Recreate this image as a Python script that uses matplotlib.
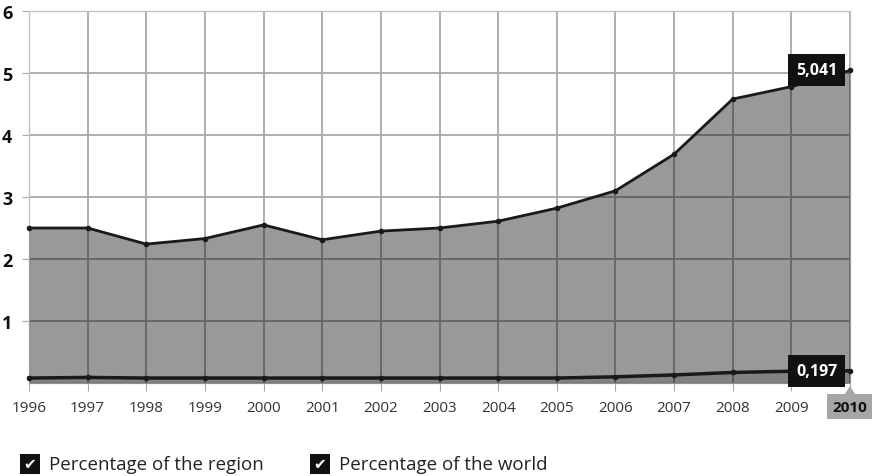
import matplotlib.pyplot as plt
from matplotlib.patches import Rectangle, Polygon

years = [1996, 1997, 1998, 1999, 2000, 2001, 2002, 2003, 2004, 2005, 2006, 2007, 2008, 2009, 2010]
region = [2.5, 2.5, 2.24, 2.33, 2.55, 2.31, 2.45, 2.5, 2.61, 2.82, 3.1, 3.69, 4.58, 4.78, 5.041]
world = [0.08, 0.09, 0.08, 0.08, 0.08, 0.08, 0.08, 0.08, 0.08, 0.08, 0.1, 0.13, 0.17, 0.19, 0.197]
yticks = [1, 2, 3, 4, 5, 6]
legend_labels = ["Percentage of the region", "Percentage of the world"]

plt.rcParams['font.family'] = ['Open Sans', 'DejaVu Sans']

fig = plt.figure(figsize=(8.72, 4.77), dpi=100)
ax = fig.add_axes([29 / 872, 1 - 384 / 477, 821 / 872, 372 / 477])

ax.set_xlim(years[0], years[-1])
ax.set_ylim(0, 6)
ax.set_xticks(years)
ax.set_yticks(yticks)
ax.set_yticklabels([str(t) for t in yticks], fontweight='bold', fontsize=13, color='#111')
ax.set_xticklabels([str(y) for y in years], fontsize=11, color='#333')
ax.tick_params(axis='x', length=6, color='#aaa', pad=6)
ax.tick_params(axis='y', length=5, color='#aaa', pad=7)
ax.grid(True, color='#a8a8a8', linewidth=1.3)
ax.set_axisbelow(True)
for s in ax.spines.values():
    s.set_color('#c4c4c4')
    s.set_linewidth(1)

# filled areas over the grid (semi-transparent so grid shows darker)
ax.fill_between(years, region, 0, color='black', alpha=0.4, linewidth=0, zorder=3)
ax.fill_between(years, world, 0, color='black', alpha=0.15, linewidth=0, zorder=3)
ax.plot(years, region, color='#1a1a1a', linewidth=2, marker='o', markersize=3, zorder=4, clip_on=False)
ax.plot(years, world, color='#1a1a1a', linewidth=2.5, marker='o', markersize=3, zorder=4, clip_on=False)

# value labels at the last year
for val in [region[-1], world[-1]]:
    ax.annotate(f"{val:.3f}".replace('.', ','), xy=(years[-1], val), xytext=(-9, 0),
                textcoords='offset points', ha='right', va='center', color='white',
                fontsize=11.5, fontweight='bold', zorder=6,
                bbox=dict(boxstyle='square,pad=0.5', fc='#111', ec='none'))

# highlight last year tick label
lbl = ax.get_xticklabels()[-1]
lbl.set_fontweight('bold')
lbl.set_color('#111')
lbl.set_bbox(dict(boxstyle='square,pad=0.35', fc='#a6a6a6', ec='none'))
fig.patches.append(Polygon([[850 / 872, 1 - 387 / 477], [843 / 872, 1 - 398 / 477], [857 / 872, 1 - 398 / 477]],
                           closed=True, transform=fig.transFigure, fc='#a6a6a6', ec='none'))

# legend with check boxes
def checkbox(x, y, label):
    fig.patches.append(Rectangle((x / 872, 1 - (y + 10) / 477), 20 / 872, 20 / 477,
                                 transform=fig.transFigure, fc='#111', ec='none'))
    fig.text((x + 10) / 872, 1 - y / 477, '\u2714', color='white', fontsize=11,
             ha='center', va='center', family='DejaVu Sans')
    fig.text((x + 29) / 872, 1 - y / 477, label, fontsize=13.5, color='#222', va='center')

checkbox(20, 465, legend_labels[0])
checkbox(310, 465, legend_labels[1])

fig.savefig('out.png', dpi=100)
